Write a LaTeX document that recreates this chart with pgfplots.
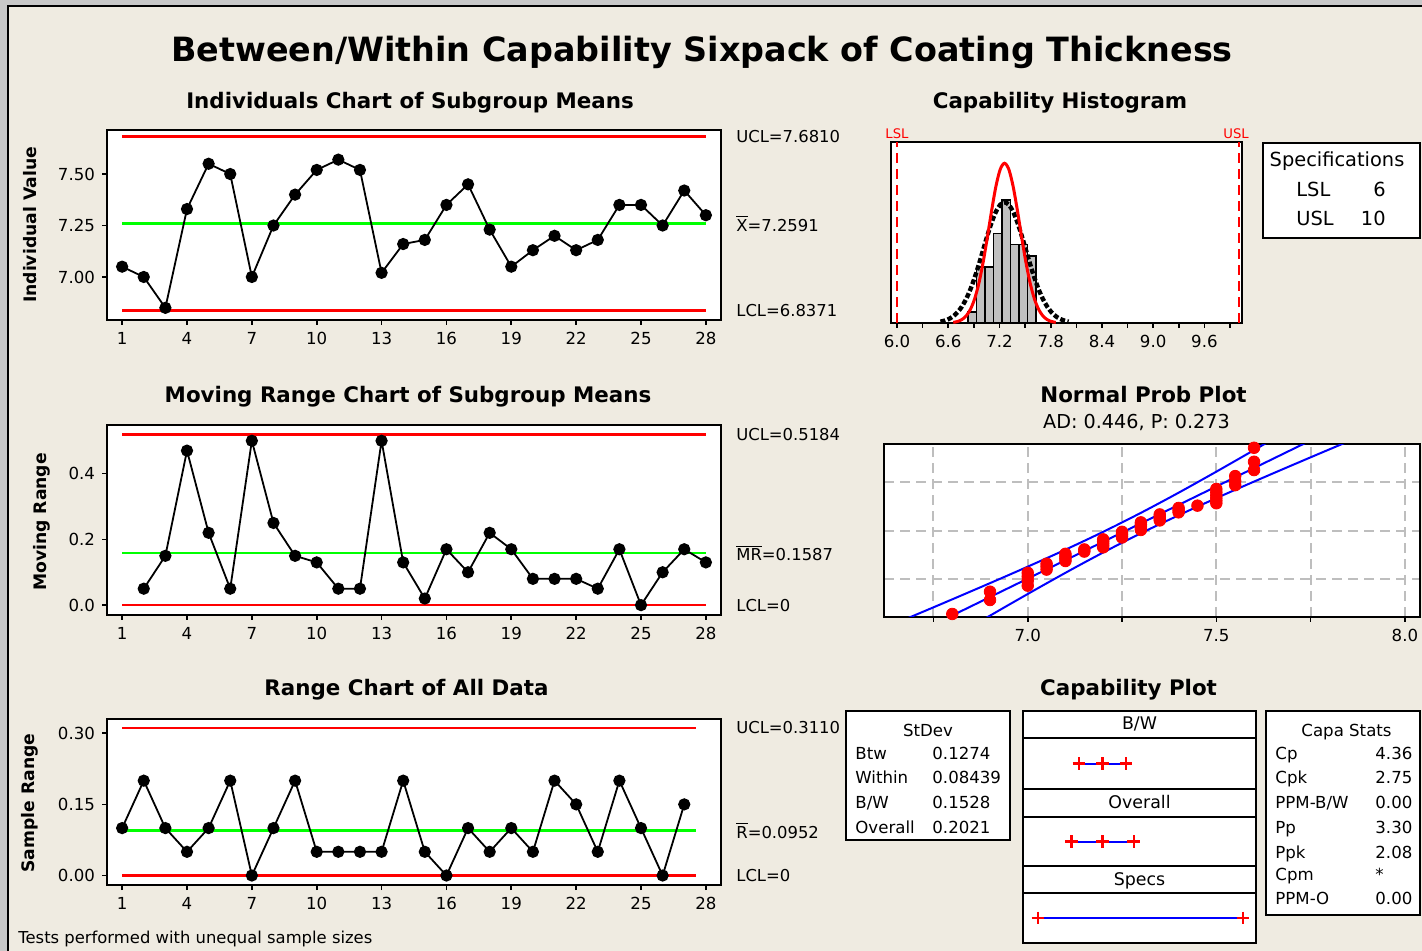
\documentclass[border=0pt]{standalone}
\usepackage{fontspec}
\setmainfont{DejaVu Sans}
\usepackage{pgfplots}
\pgfplotsset{compat=1.18}

\definecolor{bg}{RGB}{239,235,225}
\definecolor{frame}{RGB}{200,200,200}
\definecolor{cgreen}{RGB}{0,255,0}
\definecolor{cred}{RGB}{255,0,0}
\definecolor{cblue}{RGB}{0,0,255}
\definecolor{hgray}{RGB}{192,192,192}
\definecolor{gridc}{RGB}{190,190,190}

\newcommand{\fs}[1]{\fontsize{#1pt}{#1pt}\selectfont}

\tikzset{lbl/.style={anchor=west, inner sep=0pt, xshift=7.5pt, font=\fs{8.2}}}

\pgfplotsset{
  base/.style={
    scale only axis, anchor=north west, clip=false,
    axis line style={line width=1pt, black},
    axis background/.style={fill=white},
    tick align=outside, xtick pos=left, ytick pos=left,
    major tick length=2.5pt, minor tick length=2.5pt,
    every tick/.style={line width=0.8pt, black},
    tick label style={font=\fs{8.3}},
  },
  ctrl/.style={
    base, width=307pt, xmin=0.3, xmax=28.7,
    xtick={1,4,...,28}, xticklabels={1,4,7,10,13,16,19,22,25,28},
  },
  capax/.style={
    scale only axis, anchor=north west, clip=false,
    width=116.5pt, xmin=5.707, xmax=10.254, ymin=0, ymax=1,
    xtick=\empty, ytick=\empty,
    axis line style={line width=1pt, black},
    axis background/.style={fill=white},
  },
  ucl/.style={cred, line width=1.3pt},
  cl/.style={cgreen, line width=1.3pt},
  pts/.style={black, line width=0.9pt, mark=*, mark size=2.6pt},
  ival/.style={cblue, line width=1pt, mark=+, mark size=3.2pt, mark options={draw=cred, line width=1.1pt}},
}

\begin{document}
\begin{tikzpicture}
\useasboundingbox (0,0) rectangle (711pt,-475.5pt);
\fill[frame] (0,0) rectangle (711pt,-475.5pt);
\fill[bg] (4.5pt,-3.5pt) rectangle (711pt,-475.5pt);
\draw[black, line width=1pt] (4pt,-475.5pt) -- (4pt,-3pt) -- (711pt,-3pt);

% ---------- titles ----------
\node[anchor=base, font=\bfseries\fs{16.7}] at (351pt,-31pt) {Between/Within Capability Sixpack of Coating Thickness};
\node[anchor=base, font=\bfseries\fs{10.7}] at (205pt,-54.5pt) {Individuals Chart of Subgroup Means};
\node[anchor=base, font=\bfseries\fs{10.7}] at (530pt,-54.5pt) {Capability Histogram};
\node[anchor=base, font=\bfseries\fs{10.7}] at (204pt,-201.5pt) {Moving Range Chart of Subgroup Means};
\node[anchor=base, font=\bfseries\fs{10.7}] at (571.75pt,-201.5pt) {Normal Prob Plot};
\node[anchor=base, font=\fs{9.6}] at (568.25pt,-214.5pt) {AD: 0.446, P: 0.273};
\node[anchor=base, font=\bfseries\fs{10.7}] at (203.25pt,-347.5pt) {Range Chart of All Data};
\node[anchor=base, font=\bfseries\fs{10.7}] at (564.25pt,-347.5pt) {Capability Plot};

\node[rotate=90, font=\bfseries\fs{8.6}] at (15pt,-112.5pt) {Individual Value};
\node[rotate=90, font=\bfseries\fs{8.6}] at (21pt,-261pt) {Moving Range};
\node[rotate=90, font=\bfseries\fs{8.6}] at (15pt,-401.5pt) {Sample Range};

\node[anchor=base west, inner sep=0pt, font=\fs{8.2}] at (9pt,-471.5pt) {Tests performed with unequal sample sizes};

% ---------- Individuals chart ----------
\begin{axis}[ctrl, at={(53.5pt,-65pt)}, height=95pt,
  ymin=6.791, ymax=7.714, ytick={7,7.25,7.5}, yticklabels={7.00,7.25,7.50}]
\addplot[ucl] coordinates {(1,7.6810)(28,7.6810)};
\addplot[ucl] coordinates {(1,6.8371)(28,6.8371)};
\addplot[cl] coordinates {(1,7.2591)(28,7.2591)};
\addplot[pts] coordinates {
(1,7.05)(2,7.00)(3,6.85)(4,7.33)(5,7.55)(6,7.50)(7,7.00)(8,7.25)(9,7.40)(10,7.52)
(11,7.57)(12,7.52)(13,7.02)(14,7.16)(15,7.18)(16,7.35)(17,7.45)(18,7.23)(19,7.05)(20,7.13)
(21,7.20)(22,7.13)(23,7.18)(24,7.35)(25,7.35)(26,7.25)(27,7.42)(28,7.30)};
\node[lbl] at (axis cs:28.7,7.6810) {UCL=7.6810};
\node[lbl] at (axis cs:28.7,7.2591) {$\overline{\mbox{X}}$=7.2591};
\node[lbl] at (axis cs:28.7,6.8371) {LCL=6.8371};
\end{axis}

% ---------- Moving range chart ----------
\begin{axis}[ctrl, at={(53.5pt,-212.5pt)}, height=95pt,
  ymin=-0.030, ymax=0.548, ytick={0,0.2,0.4}, yticklabels={0.0,0.2,0.4}]
\addplot[ucl] coordinates {(1,0.5184)(28,0.5184)};
\addplot[ucl] coordinates {(1,0)(28,0)};
\addplot[cl] coordinates {(1,0.1587)(28,0.1587)};
\addplot[pts] coordinates {
(2,0.05)(3,0.15)(4,0.47)(5,0.22)(6,0.05)(7,0.50)(8,0.25)(9,0.15)(10,0.13)
(11,0.05)(12,0.05)(13,0.50)(14,0.13)(15,0.02)(16,0.17)(17,0.10)(18,0.22)(19,0.17)(20,0.08)
(21,0.08)(22,0.08)(23,0.05)(24,0.17)(25,0.00)(26,0.10)(27,0.17)(28,0.13)};
\node[lbl] at (axis cs:28.7,0.5184) {UCL=0.5184};
\node[lbl] at (axis cs:28.7,0.1587) {$\overline{\mbox{MR}}$=0.1587};
\node[lbl] at (axis cs:28.7,0) {LCL=0};
\end{axis}

% ---------- Range chart ----------
\begin{axis}[ctrl, at={(53.5pt,-359.5pt)}, height=83pt,
  ymin=-0.02, ymax=0.33, ytick={0,0.15,0.30}, yticklabels={0.00,0.15,0.30}]
\addplot[ucl] coordinates {(1,0.3110)(27.55,0.3110)};
\addplot[ucl] coordinates {(1,0)(27.55,0)};
\addplot[cl] coordinates {(1,0.0952)(27.55,0.0952)};
\addplot[pts] coordinates {
(1,0.10)(2,0.20)(3,0.10)(4,0.05)(5,0.10)(6,0.20)(7,0.00)(8,0.10)(9,0.20)(10,0.05)
(11,0.05)(12,0.05)(13,0.05)(14,0.20)(15,0.05)(16,0.00)(17,0.10)(18,0.05)(19,0.10)(20,0.05)
(21,0.20)(22,0.15)(23,0.05)(24,0.20)(25,0.10)(26,0.00)(27,0.15)};
\node[lbl] at (axis cs:28.7,0.3110) {UCL=0.3110};
\node[lbl] at (axis cs:28.7,0.0952) {$\overline{\mbox{R}}$=0.0952};
\node[lbl] at (axis cs:28.7,0) {LCL=0};
\end{axis}

% ---------- Capability histogram ----------
\begin{axis}[base, at={(445.5pt,-71pt)}, width=175.5pt, height=90.5pt,
  xmin=5.93, xmax=10.04, ymin=0, ymax=16.2, ytick=\empty,
  xtick={6.0,6.6,7.2,7.8,8.4,9.0,9.6}, xticklabels={6.0,6.6,7.2,7.8,8.4,9.0,9.6},
  minor xtick={6.3,6.9,7.5,8.1,8.7,9.3,9.9}]
\addplot[ybar, bar width=0.1, bar shift=0pt, fill=hgray, draw=black, line width=0.7pt] coordinates {
(6.88,1)(6.98,5)(7.08,5)(7.18,8)(7.28,11)(7.38,7)(7.48,7)(7.58,6)};
\addplot[black, line width=2.2pt, dash pattern=on 2.5pt off 1.2pt, smooth] coordinates {
(6.5091,0.120)(6.5591,0.214)(6.6091,0.368)(6.6591,0.606)(6.7091,0.960)(6.7591,1.462)
(6.8091,2.137)(6.8591,3.003)(6.9091,4.053)(6.9591,5.257)(7.0091,6.551)(7.0591,7.842)
(7.1091,9.021)(7.1591,9.970)(7.2091,10.586)(7.2591,10.80)(7.3091,10.586)(7.3591,9.970)
(7.4091,9.021)(7.4591,7.842)(7.5091,6.551)(7.5591,5.257)(7.6091,4.053)(7.6591,3.003)
(7.7091,2.137)(7.7591,1.462)(7.8091,0.960)(7.8591,0.606)(7.9091,0.368)(7.9591,0.214)(8.0091,0.120)};
\addplot[cred, line width=1.5pt, smooth] coordinates {
(6.6591,0.055)(6.7091,0.134)(6.7591,0.302)(6.8091,0.628)(6.8591,1.211)(6.9091,2.159)(6.9591,3.566)
(7.0091,5.451)(7.0591,7.714)(7.1091,10.106)(7.1591,12.255)(7.2091,13.759)(7.2591,14.30)
(7.3091,13.759)(7.3591,12.255)(7.4091,10.106)(7.4591,7.714)(7.5091,5.451)(7.5591,3.566)
(7.6091,2.159)(7.6591,1.211)(7.7091,0.628)(7.7591,0.302)(7.8091,0.134)(7.8591,0.055)};
\addplot[cred, line width=1pt, dash pattern=on 5pt off 3pt] coordinates {(6,0)(6,16.2)};
\addplot[cred, line width=1pt, dash pattern=on 5pt off 3pt] coordinates {(10,0)(10,16.2)};
\node[anchor=south, inner sep=1.5pt, text=cred, font=\fs{6.6}] at (axis cs:6,16.2) {LSL};
\node[anchor=south, inner sep=1.5pt, text=cred, font=\fs{6.6}] at (axis cs:9.97,16.2) {USL};
\end{axis}

% ---------- Normal probability plot ----------
\begin{axis}[base, clip=true, at={(442pt,-222pt)}, width=268pt, height=86.5pt,
  xmin=6.619, xmax=8.04, ymin=-2.28, ymax=2.30,
  xtick={6.75,7,7.25,7.5,7.75,8}, xticklabels={,7.0,,7.5,,8.0},
  ytick={-1.2816,0,1.2816}, yticklabels={}, ytick style={draw=none},
  grid=major, grid style={gridc, line width=1pt, dash pattern=on 5pt off 3pt}]
\addplot[cblue, line width=1pt] coordinates {(6.7466,-2.5)(7.7716,2.5)};
\addplot[cblue, line width=1pt, smooth] coordinates {
(6.6372,-2.5)(6.7558,-2)(6.8730,-1.5)(6.9881,-1)(7.0994,-0.5)(7.2052,0)
(7.3044,0.5)(7.3981,1)(7.4880,1.5)(7.5758,2)(7.6622,2.5)};
\addplot[cblue, line width=1pt, smooth] coordinates {
(6.8560,-2.5)(6.9424,-2)(7.0302,-1.5)(7.1201,-1)(7.2138,-0.5)(7.3130,0)
(7.4188,0.5)(7.5301,1)(7.6452,1.5)(7.7624,2)(7.8810,2.5)};
\addplot[only marks, mark=*, mark size=2.9pt, cred] coordinates {
(6.80,-2.20)(6.90,-1.83)(6.90,-1.61)(7.00,-1.45)(7.00,-1.32)(7.00,-1.21)(7.00,-1.11)
(7.05,-1.025)(7.05,-0.944)(7.05,-0.869)(7.10,-0.798)(7.10,-0.732)(7.10,-0.668)(7.10,-0.607)
(7.15,-0.548)(7.15,-0.491)(7.20,-0.436)(7.20,-0.382)(7.20,-0.329)(7.20,-0.277)(7.20,-0.225)
(7.25,-0.175)(7.25,-0.125)(7.25,-0.075)(7.25,-0.025)(7.30,0.025)(7.30,0.075)(7.30,0.125)
(7.30,0.175)(7.30,0.225)(7.35,0.277)(7.35,0.329)(7.35,0.382)(7.35,0.436)(7.40,0.491)
(7.40,0.548)(7.40,0.607)(7.45,0.668)(7.50,0.732)(7.50,0.798)(7.50,0.869)(7.50,0.944)
(7.50,1.025)(7.50,1.11)(7.55,1.21)(7.55,1.32)(7.55,1.45)(7.60,1.61)(7.60,1.83)(7.60,2.20)};
\end{axis}

% ---------- Capability plot ----------
\draw[fill=white, line width=1pt] (511.5pt,-355.5pt) rectangle (628pt,-369pt);
\node[anchor=base, font=\fs{8.7}] at (569.75pt,-364.5pt) {B/W};
\draw[fill=white, line width=1pt] (511.5pt,-394.5pt) rectangle (628pt,-408.5pt);
\node[anchor=base, font=\fs{8.7}] at (569.75pt,-404pt) {Overall};
\draw[fill=white, line width=1pt] (511.5pt,-433pt) rectangle (628pt,-446.5pt);
\node[anchor=base, font=\fs{8.7}] at (569.75pt,-442.5pt) {Specs};

\begin{axis}[capax, at={(511.5pt,-369pt)}, height=25.5pt]
\addplot[ival] coordinates {(6.8007,0.5)(7.2591,0.5)(7.7175,0.5)};
\end{axis}
\begin{axis}[capax, at={(511.5pt,-408.5pt)}, height=24.5pt]
\addplot[ival] coordinates {(6.6528,0.5)(7.2591,0.5)(7.8654,0.5)};
\end{axis}
\begin{axis}[capax, at={(511.5pt,-446.5pt)}, height=25pt]
\addplot[ival] coordinates {(6,0.5)(10,0.5)};
\end{axis}

% StDev box
\draw[fill=white, line width=0.8pt] (423pt,-355.5pt) rectangle (505pt,-420pt);
\node[anchor=base, font=\fs{8.3}] at (464pt,-368pt) {StDev};
\begin{scope}[every node/.style={anchor=base west, inner sep=0pt, font=\fs{8.3}}]
\node at (427.5pt,-379.5pt) {Btw};     \node at (466pt,-379.5pt) {0.1274};
\node at (427.5pt,-391.5pt) {Within};  \node at (466pt,-391.5pt) {0.08439};
\node at (427.5pt,-404pt) {B/W};       \node at (466pt,-404pt) {0.1528};
\node at (427.5pt,-416.5pt) {Overall}; \node at (466pt,-416.5pt) {0.2021};
\end{scope}

% Capa Stats box
\draw[fill=white, line width=0.8pt] (633pt,-355.5pt) rectangle (710pt,-457.5pt);
\node[anchor=base, font=\fs{8.3}] at (673.25pt,-368pt) {Capa Stats};
\begin{scope}[every node/.style={anchor=base west, inner sep=0pt, font=\fs{8.3}}]
\node at (637.5pt,-379.5pt) {Cp};      \node at (687.5pt,-379.5pt) {4.36};
\node at (637.5pt,-391.5pt) {Cpk};     \node at (687.5pt,-391.5pt) {2.75};
\node at (637.5pt,-404pt) {PPM-B/W};   \node at (687.5pt,-404pt) {0.00};
\node at (637.5pt,-416.5pt) {Pp};      \node at (687.5pt,-416.5pt) {3.30};
\node at (637.5pt,-429pt) {Ppk};       \node at (687.5pt,-429pt) {2.08};
\node at (637.5pt,-440pt) {Cpm};       \node at (687.5pt,-440pt) {*};
\node at (637.5pt,-452pt) {PPM-O};     \node at (687.5pt,-452pt) {0.00};
\end{scope}

% Specifications box
\draw[fill=white, line width=0.8pt] (631.5pt,-71.5pt) rectangle (710pt,-119pt);
\node[anchor=base, font=\fs{9.7}] at (668.5pt,-83.5pt) {Specifications};
\node[anchor=base west, inner sep=0pt, font=\fs{9.7}] at (648pt,-98.5pt) {LSL};
\node[anchor=base east, inner sep=0pt, font=\fs{9.7}] at (693pt,-98.5pt) {6};
\node[anchor=base west, inner sep=0pt, font=\fs{9.7}] at (648pt,-113pt) {USL};
\node[anchor=base east, inner sep=0pt, font=\fs{9.7}] at (693pt,-113pt) {10};
\end{tikzpicture}
\end{document}
